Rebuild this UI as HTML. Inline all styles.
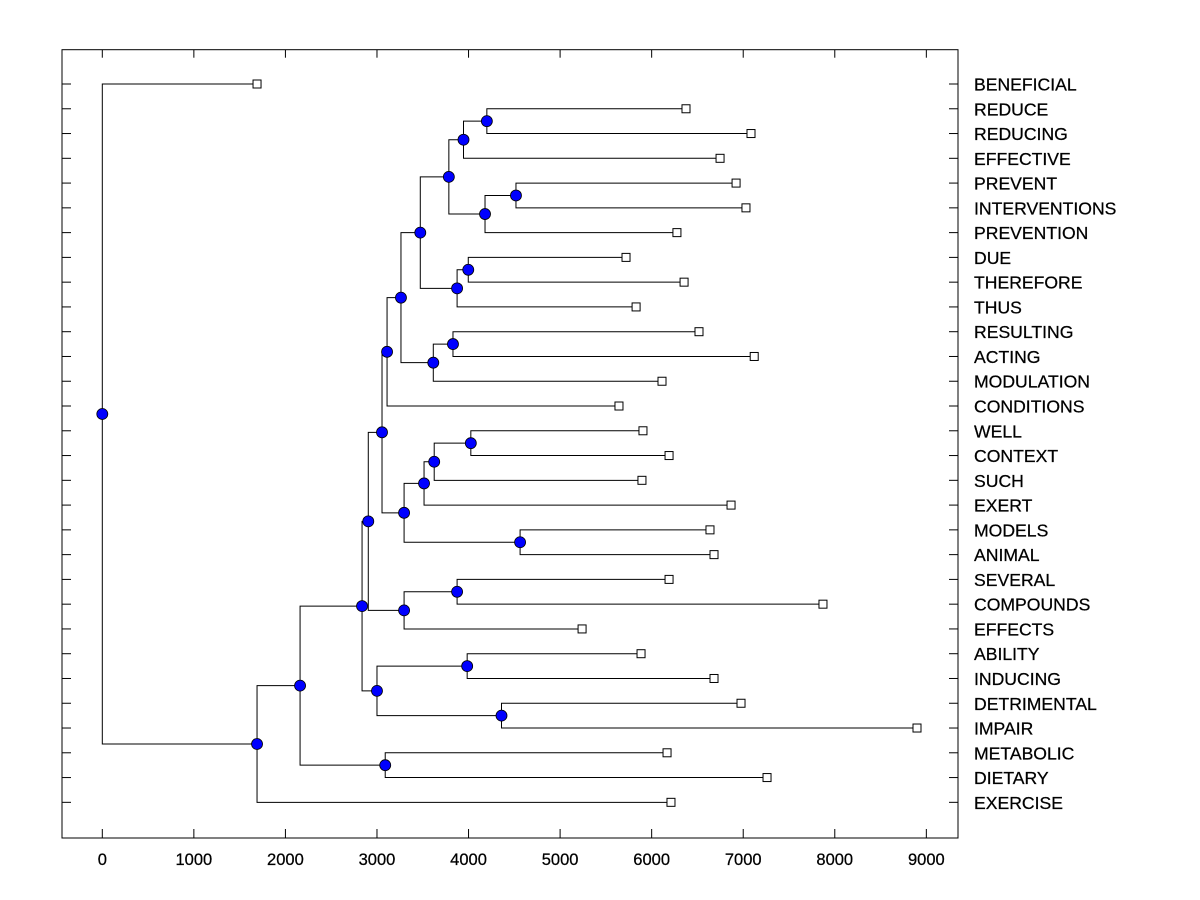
<!DOCTYPE html>
<html><head><meta charset="utf-8"><style>
html,body{margin:0;padding:0;background:#fff;}
svg{display:block;font-family:"Liberation Sans",Arial,sans-serif;}
</style></head><body>
<svg id="chart" width="1200" height="900" viewBox="0 0 1200 900" xmlns="http://www.w3.org/2000/svg">
<rect x="0" y="0" width="1200" height="900" fill="#fff"/>
<g id="plot"></g>
</svg>
<script>
const leafNames = ["BENEFICIAL","REDUCE","REDUCING","EFFECTIVE","PREVENT","INTERVENTIONS","PREVENTION","DUE","THEREFORE","THUS","RESULTING","ACTING","MODULATION","CONDITIONS","WELL","CONTEXT","SUCH","EXERT","MODELS","ANIMAL","SEVERAL","COMPOUNDS","EFFECTS","ABILITY","INDUCING","DETRIMENTAL","IMPAIR","METABOLIC","DIETARY","EXERCISE"];
const leafValues = [1690,6375,7085,6747,6922,7030,6276,5720,6354,5830,6517,7120,6113,5643,5905,6190,5894,6867,6637,6681,6190,7871,5240,5884,6681,6976,8898,6168,7260,6211];
const mergeLeft  = [1,30,4,32,31,7,35,34,10,38,37,40,14,42,43,18,44,41,20,48,47,23,25,51,50,27,54,56,0];
const mergeRight = [2,3,5,6,33,8,9,36,11,12,39,13,15,16,17,19,45,46,21,22,49,24,26,52,53,28,55,29,57];
const mergeHeight = [4200,3945,4518,4180,3785,3997,3875,3473,3830,3615,3262,3110,4025,3625,3514,4563,3296,3055,3875,3296,2905,3985,4360,3000,2837,3090,2160,1690,0];
const xTicks = [0,1000,2000,3000,4000,5000,6000,7000,8000,9000];

const L=62,R=958,T=49.7,B=838;
const X0=102.3, XS=0.09156;
function xs(v){return X0+v*XS;}
function ys(i){return 84+i*24.77;}
const NS="http://www.w3.org/2000/svg";
const g=document.getElementById('plot');
function mk(tag,attrs){const e=document.createElementNS(NS,tag);for(const k in attrs)e.setAttribute(k,attrs[k]);g.appendChild(e);return e;}

let fr=mk('rect',{x:L,y:T,width:R-L,height:B-T,fill:'none',stroke:'#000','stroke-width':1});



xTicks.forEach(v=>{
  const x=xs(v);
  let t=mk('line',{x1:x,y1:B,x2:x,y2:B-9,stroke:'#000'});
  
  
  let t2=mk('line',{x1:x,y1:T,x2:x,y2:T+8,stroke:'#000'});
  
  
  let lb=mk('text',{x:x,y:865,'text-anchor':'middle','font-size':16.5,'stroke':'#000','stroke-width':0.25});
  lb.textContent=v;
  
  
});

leafNames.forEach((n,i)=>{
  const y=ys(i);
  let a=mk('line',{x1:L,y1:y,x2:L+9,y2:y,stroke:'#000'});
  
  
  let b=mk('line',{x1:R,y1:y,x2:R-9,y2:y,stroke:'#000'});
  
  
  let lb=mk('text',{x:974,y:y+6.5,'font-size':17.6,'stroke':'#000','stroke-width':0.25});
  lb.textContent=n;
  
  
});

const px=[],py=[];
leafValues.forEach((v,i)=>{px[i]=xs(v);py[i]=ys(i);});
const nL=leafNames.length;
mergeHeight.forEach((h,k)=>{
  const id=nL+k,a=mergeLeft[k],b=mergeRight[k];
  px[id]=xs(h);py[id]=(py[a]+py[b])/2;
});
mergeHeight.forEach((h,k)=>{
  const id=nL+k,a=mergeLeft[k],b=mergeRight[k],x=px[id];
  let p=mk('path',{d:`M${px[a]},${py[a]}H${x}V${py[b]}H${px[b]}`,fill:'none',stroke:'#000','stroke-width':1});
  
  
});
leafValues.forEach((v,i)=>{
  let s=mk('rect',{x:px[i]-4,y:py[i]-4,width:8,height:8,fill:'#fff',stroke:'#000','stroke-width':1});
  
  
});
mergeHeight.forEach((h,k)=>{
  const id=nL+k;
  let c=mk('circle',{cx:px[id],cy:py[id],r:5.5,fill:'#0000ff',stroke:'#000','stroke-width':0.8});
  
  
});
</script>
</body></html>
